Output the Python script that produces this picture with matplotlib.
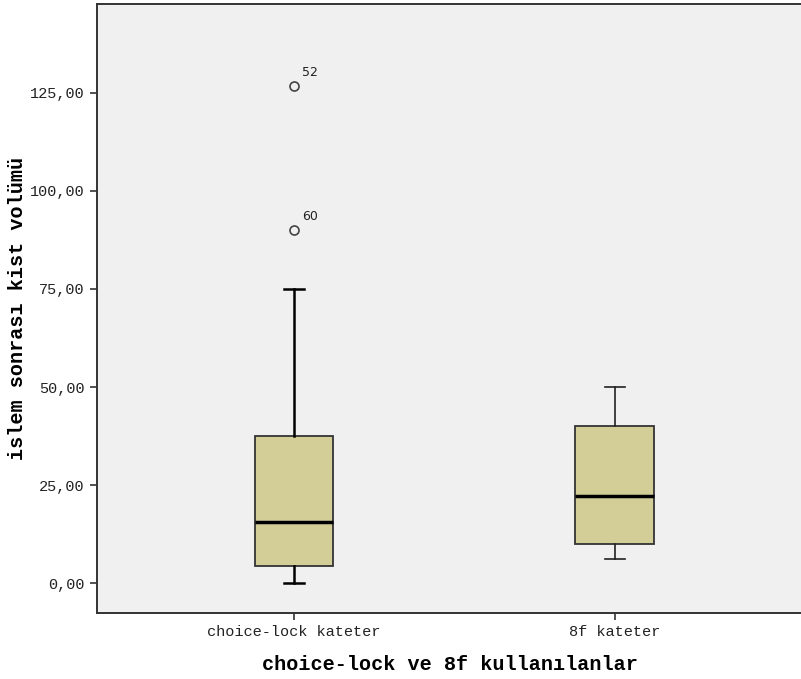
import matplotlib.pyplot as plt
from matplotlib.ticker import FuncFormatter

# Box statistics (SPSS style boxplot)
categories = ["choice-lock kateter", "8f kateter"]
whislo = [0.0, 6.0]
q1 = [4.3, 10.0]
median = [15.6, 22.2]
q3 = [37.5, 40.0]
whishi = [75.0, 50.0]
outliers = [[126.8, 90.0], []]
outlier_ids = [["52", "60"], []]

yticks = [0, 25, 50, 75, 100, 125]

W, H = 801, 679
fig = plt.figure(figsize=(W / 100, H / 100), dpi=100)
ax = fig.add_axes([97 / W, (H - 613) / H, 705 / W, 609 / H])
ax.set_facecolor("#f0f0f0")

stats = []
for i, name in enumerate(categories):
    stats.append(dict(label=name, whislo=whislo[i], q1=q1[i], med=median[i],
                      q3=q3[i], whishi=whishi[i], fliers=outliers[i]))

bp = ax.bxp(stats, positions=[1, 2], widths=0.246, patch_artist=True,
            showfliers=True,
            boxprops=dict(facecolor="#d3ce97", edgecolor="#333333", linewidth=1.3),
            medianprops=dict(color="black", linewidth=2.5),
            whiskerprops=dict(color="black", linewidth=1.8),
            capprops=dict(color="black", linewidth=1.8),
            flierprops=dict(marker="o", markersize=6.5, markerfacecolor="none",
                            markeredgecolor="#444444", markeredgewidth=1.2))
for c in bp["caps"]:
    xd = c.get_xdata()
    mid = (xd[0] + xd[1]) / 2
    c.set_xdata([mid - 0.031, mid + 0.031])
# second box drawn with thinner lines like the reference
for art in bp["whiskers"][2:] + bp["caps"][2:]:
    art.set_linewidth(1.2)
    art.set_color("#222222")

for i, ids in enumerate(outlier_ids):
    for val, lab in zip(outliers[i], ids):
        ax.annotate(lab, (i + 1, val), textcoords="offset points",
                    xytext=(5.5, 7), fontsize=9, color="#222222",
                    family="DejaVu Sans")

ax.set_xlim(0.386, 2.583)
ax.set_ylim(-7.65, 147.7)
ax.set_yticks(yticks)
ax.yaxis.set_major_formatter(FuncFormatter(lambda v, p: f"{v:.2f}".replace(".", ",")))
ax.set_xticks([1, 2])
ax.set_xticklabels(categories)

for lab in ax.get_xticklabels() + ax.get_yticklabels():
    lab.set_family("Liberation Mono")
    lab.set_fontsize(11)
    lab.set_color("#222222")
ax.tick_params(axis="both", length=5, width=1.2, color="#333333", pad=4)

for s in ax.spines.values():
    s.set_color("#333333")
    s.set_linewidth(1.4)

ax.set_xlabel("choice-lock ve 8f kullanılanlar", family="Liberation Mono",
              fontweight="bold", fontsize=14.5, labelpad=11)
ax.set_ylabel("islem sonrası kist volümü", family="Liberation Mono",
              fontweight="bold", fontsize=14.5)
ax.yaxis.set_label_coords(-0.099, 0.5)

fig.savefig("out.png", dpi=100, facecolor="white")
